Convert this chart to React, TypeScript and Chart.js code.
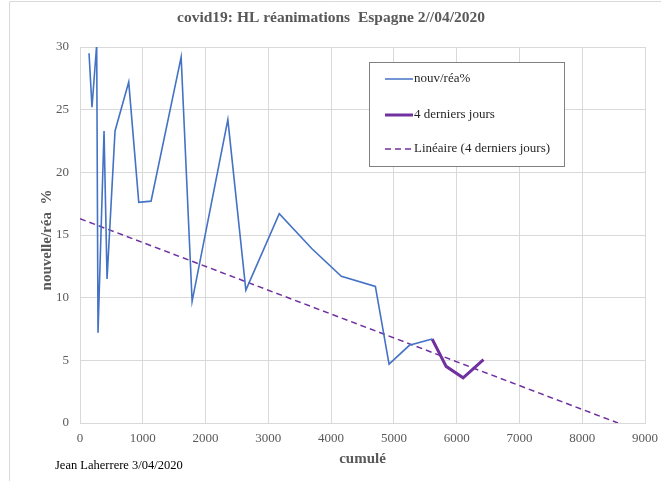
import React, { useEffect, useRef } from "react";
import { Chart, registerables } from "chart.js";

Chart.register(...registerables);

const blueX = [144, 191, 266, 287, 383, 431, 558, 776, 936, 1132, 1611, 1786, 2355, 2642, 3174, 3695, 4163, 4705, 4923, 5247, 5609];
const blueY = [29.5, 25.2, 30.2, 7.2, 23.3, 11.5, 23.3, 27.2, 17.6, 17.7, 29.2, 9.7, 24.2, 10.6, 16.7, 13.9, 11.7, 10.9, 4.7, 6.2, 6.7];
const lastX = [5609, 5832, 6103, 6427];
const lastY = [6.7, 4.52, 3.61, 5.05];
const trendX = [0, 8570];
const trendY = [16.3, 0];

const TITLE = "covid19: HL réanimations  Espagne 2//04/2020";
const X_TITLE = "cumulé";
const Y_TITLE = "nouvelle/réa  %";
const FOOTER = "Jean Laherrere 3/04/2020";
const LEGEND_LABELS = ["nouv/réa%", "4 derniers jours", "Linéaire (4 derniers jours)"];

const SERIF = "'Liberation Serif', 'Times New Roman', serif";
const BLUE = "#4472C4";
const PURPLE = "#7030A0";

const pts = (xs: number[], ys: number[]) => xs.map((x, i) => ({ x, y: ys[i] }));

const decorPlugin = {
  id: "decor",
  beforeDraw(chart: any) {
    const ctx = chart.ctx;
    ctx.save();
    ctx.fillStyle = "#ffffff";
    ctx.fillRect(0, 0, chart.width, chart.height);
    ctx.strokeStyle = "#d9d9d9";
    ctx.lineWidth = 1;
    ctx.beginPath();
    ctx.moveTo(9.5, chart.height);
    ctx.lineTo(9.5, 1.5);
    ctx.lineTo(chart.width, 1.5);
    ctx.stroke();
    ctx.restore();
  },
  afterDraw(chart: any) {
    const ctx = chart.ctx;
    const area = chart.chartArea;
    ctx.save();
    ctx.fillStyle = "#595959";
    ctx.font = `bold 15.5px ${SERIF}`;
    ctx.textAlign = "center";
    ctx.textBaseline = "middle";
    ctx.fillText(TITLE, 331, 18);
    ctx.font = `bold 15px ${SERIF}`;
    ctx.fillText(X_TITLE, (area.left + area.right) / 2, 459);
    ctx.save();
    ctx.translate(47, 240);
    ctx.rotate(-Math.PI / 2);
    ctx.fillText(Y_TITLE, 0, 0);
    ctx.restore();
    ctx.fillStyle = "#000000";
    ctx.font = `12.5px ${SERIF}`;
    ctx.textAlign = "left";
    ctx.fillText(FOOTER, 55, 466);
    const bx = 369.5, by = 62.5, bw = 195, bh = 104;
    ctx.fillStyle = "#ffffff";
    ctx.fillRect(bx, by, bw, bh);
    ctx.strokeStyle = "#808080";
    ctx.lineWidth = 1;
    ctx.strokeRect(bx, by, bw, bh);
    const rows = [79, 115, 149];
    const styles = [
      { c: BLUE, w: 1.5, d: [] as number[] },
      { c: PURPLE, w: 3, d: [] as number[] },
      { c: PURPLE, w: 1.5, d: [6, 4] },
    ];
    rows.forEach((y, i) => {
      ctx.strokeStyle = styles[i].c;
      ctx.lineWidth = styles[i].w;
      ctx.setLineDash(styles[i].d);
      ctx.beginPath();
      ctx.moveTo(385, y);
      ctx.lineTo(413, y);
      ctx.stroke();
      ctx.setLineDash([]);
      ctx.fillStyle = "#262626";
      ctx.font = `13px ${SERIF}`;
      ctx.textAlign = "left";
      ctx.textBaseline = "middle";
      ctx.fillText(LEGEND_LABELS[i], 414, y);
    });
    ctx.restore();
  },
};

export default function App() {
  const ref = useRef<HTMLCanvasElement>(null);
  useEffect(() => {
    if (!ref.current) return;
    const chart = new Chart(ref.current, {
      type: "scatter",
      data: {
        datasets: [
          {
            label: LEGEND_LABELS[0],
            data: pts(blueX, blueY),
            showLine: true,
            borderColor: BLUE,
            borderWidth: 1.6,
            pointRadius: 0,
            tension: 0,
          },
          {
            label: LEGEND_LABELS[1],
            data: pts(lastX, lastY),
            showLine: true,
            borderColor: PURPLE,
            borderWidth: 3,
            pointRadius: 0,
            tension: 0,
          },
          {
            label: LEGEND_LABELS[2],
            data: pts(trendX, trendY),
            showLine: true,
            borderColor: PURPLE,
            borderWidth: 1.5,
            borderDash: [6, 4],
            pointRadius: 0,
            tension: 0,
          },
        ],
      },
      options: {
        animation: false,
        responsive: false,
        events: [],
        layout: { padding: { top: 47, right: 0, left: 0, bottom: 0 } },
        plugins: {
          legend: { display: false },
          title: { display: false },
          tooltip: { enabled: false },
        },
        scales: {
          x: {
            type: "linear",
            min: 0,
            max: 9000,
            afterFit: (s: any) => {
              s.height = 58;
              s.paddingRight = 16;
              s.paddingLeft = 0;
            },
            ticks: {
              stepSize: 1000,
              color: "#595959",
              font: { family: SERIF, size: 13 },
              padding: 8,
              maxRotation: 0,
              autoSkip: false,
              callback: (v: any) => String(v),
            },
            grid: { color: "#d9d9d9", drawTicks: false },
            border: { color: "#d9d9d9" },
          },
          y: {
            type: "linear",
            min: 0,
            max: 30,
            afterFit: (s: any) => { s.width = 80; },
            ticks: {
              stepSize: 5,
              color: "#595959",
              font: { family: SERIF, size: 13 },
              padding: 11,
              callback: (v: any) => String(v),
            },
            grid: { color: "#d9d9d9", drawTicks: false },
            border: { color: "#d9d9d9" },
          },
        },
      } as any,
      plugins: [decorPlugin],
    });
    return () => chart.destroy();
  }, []);
  return (
    <div style={{ position: "fixed", left: 0, top: 0, width: 661, height: 481 }}>
      <canvas ref={ref} width={661} height={481} style={{ display: "block" }} />
    </div>
  );
}
